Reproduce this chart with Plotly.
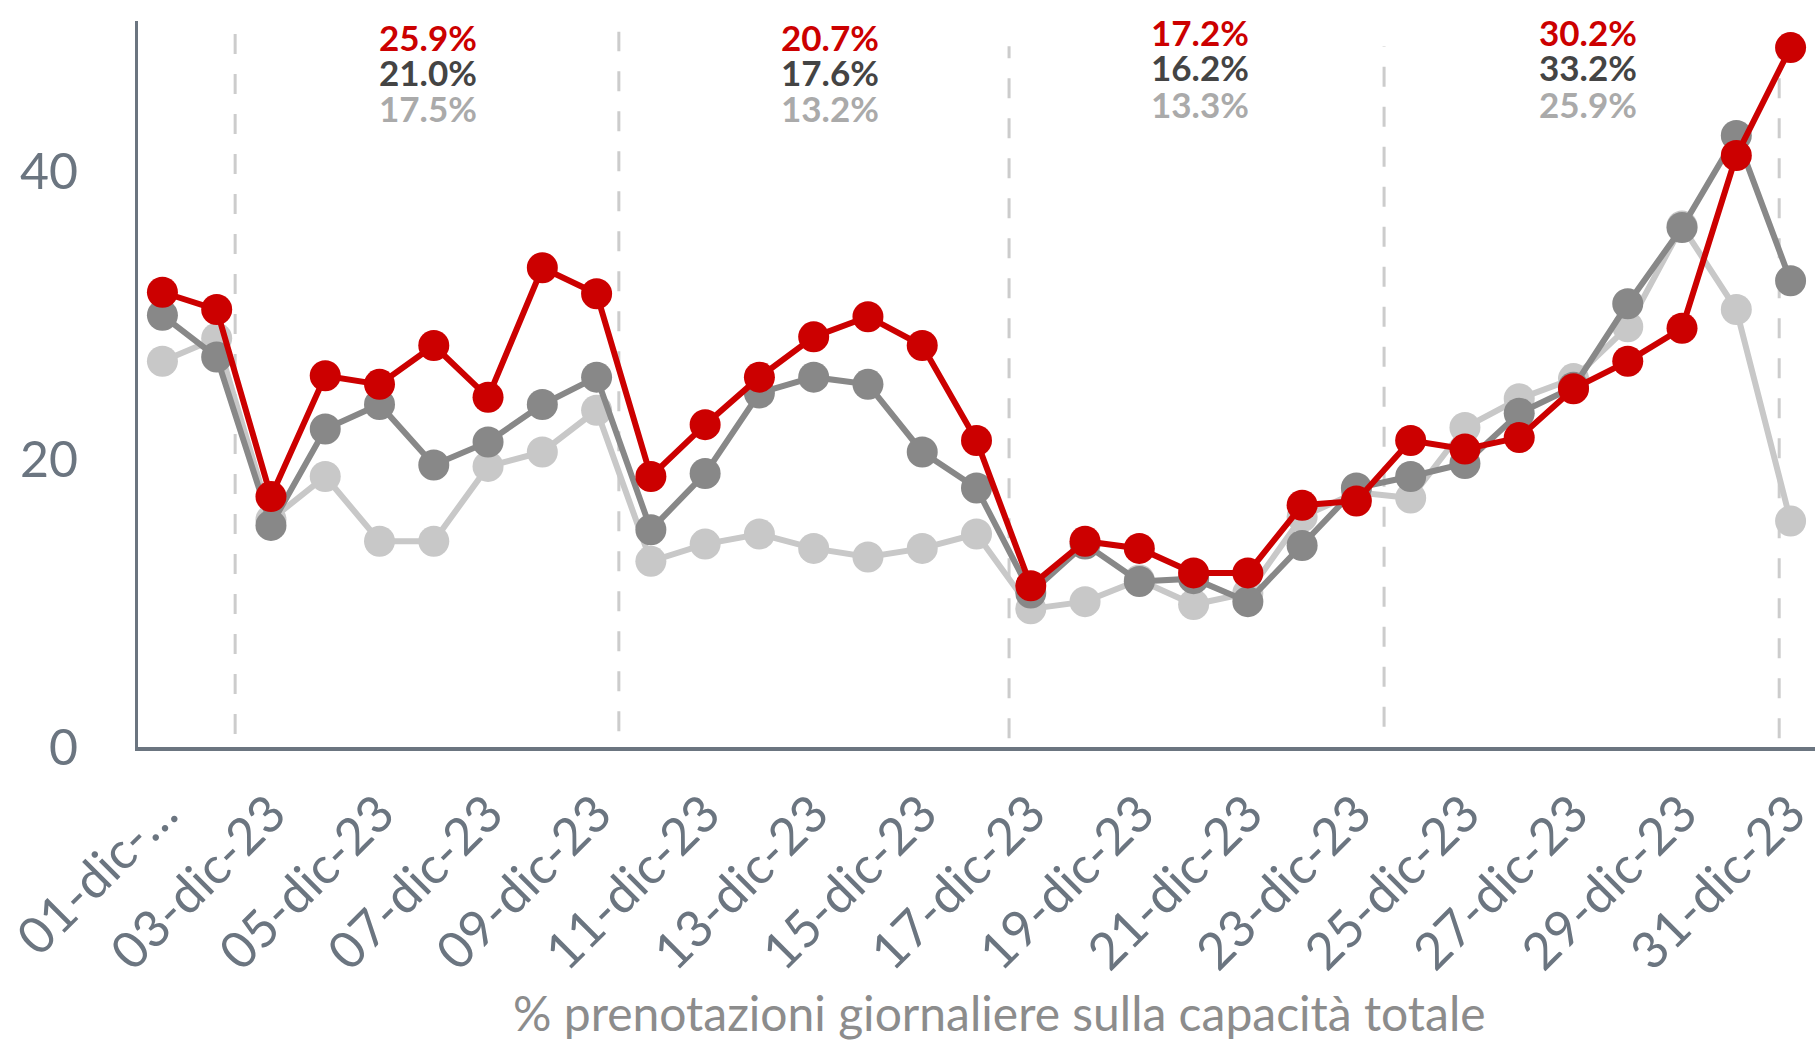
import plotly.graph_objects as go

days = [f"{d:02d}-dic-23" for d in range(1, 32)]
tick_labels = ["01-dic-…"] + [f"{d:02d}-dic-23" for d in range(3, 32, 2)]
tick_vals = [days[i] for i in range(0, 31, 2)]

serie_rossa = [31.6, 30.4, 17.4, 25.8, 25.2, 27.9, 24.3, 33.3, 31.5, 18.8, 22.4, 25.7, 28.5, 29.9, 27.9, 21.3,
               11.2, 14.3, 13.8, 12.1, 12.1, 16.8, 17.1, 21.3, 20.7, 21.5, 24.9, 26.8, 29.1, 41.1, 48.6]
serie_grigia = [30.0, 27.1, 15.4, 22.1, 23.8, 19.6, 21.2, 23.8, 25.7, 15.1, 19.0, 24.6, 25.7, 25.2, 20.5, 18.0,
                10.7, 14.1, 11.5, 11.7, 10.1, 14.0, 18.0, 18.8, 19.7, 23.2, 25.0, 30.8, 36.1, 42.5, 32.4]
serie_chiara = [26.8, 28.4, 15.8, 18.8, 14.3, 14.3, 19.5, 20.5, 23.4, 12.9, 14.1, 14.8, 13.8, 13.2, 13.8, 14.8,
                9.6, 10.1, 11.6, 9.9, 10.7, 16.0, 17.7, 17.3, 22.2, 24.2, 25.6, 29.2, 36.2, 30.4, 15.7]

medie_rosse = ["25.9%", "20.7%", "17.2%", "30.2%"]
medie_grigie = ["21.0%", "17.6%", "16.2%", "33.2%"]
medie_chiare = ["17.5%", "13.2%", "13.3%", "25.9%"]
titolo_asse = "% prenotazioni giornaliere sulla capacità totale"

RED = "#CC0000"
GREY = "#888888"
LIGHT = "#C8C8C8"
SLATE = "#6B7580"

fig = go.Figure()
for vals, col in [(serie_chiara, LIGHT), (serie_grigia, GREY), (serie_rossa, RED)]:
    fig.add_trace(go.Scatter(x=days, y=vals, mode="lines+markers",
                             line=dict(color=col, width=6),
                             marker=dict(color=col, size=31),
                             showlegend=False, hoverinfo="x+y"))

# week separators
seps = [(1.34, 49.7, 0.9), (8.41, 49.7, 1.1), (15.6, 48.7, 0.6), (22.51, 48.7, 1.4), (29.79, 48.7, 0.6)]
for x, y1, y0 in seps:
    fig.add_shape(type="line", xref="x", yref="y", x0=x, x1=x, y0=y0, y1=y1,
                  line=dict(color="#CCCCCC", width=3, dash="20px,20px"), layer="below")

# weekly averages
group_x = [428, 830, 1200, 1588]
group_y = [[37, 72, 108], [37, 72, 108], [32, 67, 104], [32, 67, 104]]
W, H = 1815, 1041
LEFT, TOP, ZERO = 138, 21, 746.6


def px(x):
    return (x - LEFT) / (W - LEFT)


def py(y):
    return 1 - (y - TOP) / (ZERO - TOP)


for g in range(4):
    texts = [(medie_rosse[g], RED), (medie_grigie[g], "#444444"), (medie_chiare[g], "#AAAAAA")]
    for (t, c), yy in zip(texts, group_y[g]):
        fig.add_annotation(text=t, xref="paper", yref="paper", showarrow=False,
                           x=px(group_x[g]), y=py(yy),
                           xanchor="center", yanchor="middle",
                           font=dict(family="Lato", size=35, color=c, weight=700))

# axis title
fig.add_annotation(text=titolo_asse, xref="paper", yref="paper", showarrow=False,
                   x=px(999), y=py(1012), xanchor="center", yanchor="middle",
                   font=dict(family="Lato", size=48, color="#8C8C8C"))

fig.update_layout(
    width=W, height=H,
    margin=dict(l=LEFT, r=0, t=TOP, b=H - ZERO),
    plot_bgcolor="white", paper_bgcolor="white",
    font=dict(family="Lato", color=SLATE),
    xaxis=dict(type="category", range=[-0.45, 30.45], tickmode="array",
               tickvals=tick_vals, ticktext=tick_labels, tickangle=-45,
               tickfont=dict(size=51, color=SLATE), automargin=False,
               showline=True, linecolor=SLATE, linewidth=4, showgrid=False,
               ticks="outside", ticklen=12, tickcolor="rgba(0,0,0,0)"),
    yaxis=dict(range=[0, 50.45], tickvals=[0, 20, 40], automargin=False,
               tickfont=dict(size=50, color=SLATE),
               showline=True, linecolor=SLATE, linewidth=3, showgrid=False,
               zeroline=False, ticks="", ticklabelstandoff=47),
)

fig.write_html("out.html", config={"displayModeBar": False},
               post_script="document.body.style.margin='0';document.body.style.overflow='hidden';")
